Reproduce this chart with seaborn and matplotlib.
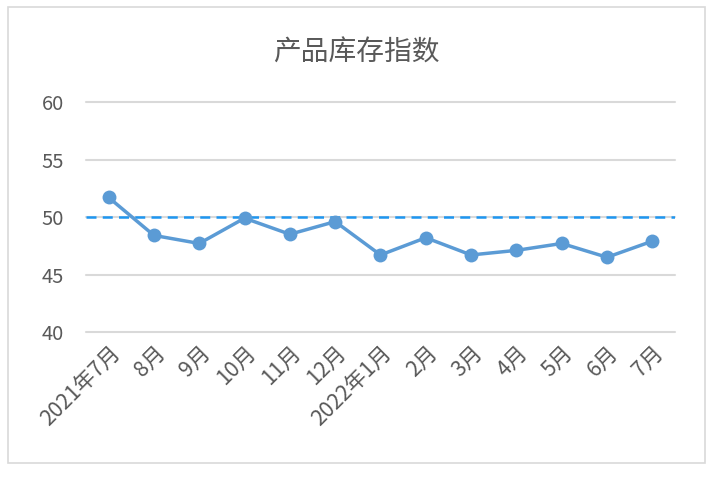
import matplotlib
matplotlib.use('Agg')
import matplotlib.pyplot as plt
import pandas as pd
import seaborn as sns
from matplotlib.patches import Rectangle

months = ['2021年7月', '8月', '9月', '10月', '11月', '12月', '2022年1月',
          '2月', '3月', '4月', '5月', '6月', '7月']
values = [51.7, 48.4, 47.7, 49.9, 48.5, 49.6, 46.7, 48.2, 46.7, 47.1, 47.7, 46.5, 47.9]
ref_level = 50
yticks = [40, 45, 50, 55, 60]

sns.set_style('white')
plt.rcParams['font.family'] = ['Noto Sans CJK SC', 'DejaVu Sans']

df = pd.DataFrame({'idx': range(len(months)), 'month': months, 'value': values})

fig = plt.figure(figsize=(7.13, 4.83), dpi=100)
ax = fig.add_axes([0.1206, 0.3126, 0.8261, 0.4762])

# gridlines drawn by hand so the 40 and 60 lines are not half clipped
for t in yticks:
    ax.axhline(t, color='#D9D9D9', linewidth=1.5, zorder=0, clip_on=False)
ax.axhline(ref_level, color='#1E96F0', linewidth=1.8, linestyle=(0, (4, 2.5)), zorder=1)

sns.lineplot(data=df, x='idx', y='value', ax=ax, color='#5B9BD5', linewidth=2.5,
             marker='o', markersize=10, markeredgewidth=0, sort=False, zorder=3)

ax.set_xlim(-0.5, len(months) - 0.5)
ax.set_ylim(40, 60)
ax.set_yticks(yticks)
ax.set_xticks(range(len(months)))
ax.set_xticklabels(months, rotation=45, ha='right', rotation_mode='anchor')
ax.tick_params(axis='y', length=0, labelsize=14.5, colors='#595959', pad=16)
ax.tick_params(axis='x', length=0, labelsize=15.5, colors='#595959', pad=7)
ax.set_xlabel('')
ax.set_ylabel('')
for s in ax.spines.values():
    s.set_visible(False)

fig.text(0.5, 0.892, '产品库存指数', ha='center', va='center', fontsize=20, color='#595959')
fig.patches.append(Rectangle((0.011, 0.042), 0.978, 0.943, transform=fig.transFigure,
                             fill=False, edgecolor='#D9D9D9', linewidth=1.2))

fig.savefig('out.png', dpi=100)
